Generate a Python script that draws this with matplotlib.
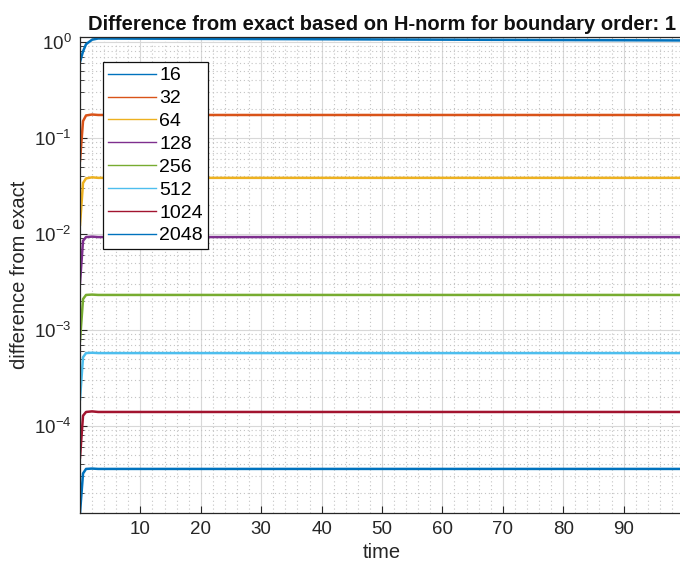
import matplotlib
matplotlib.use("Agg")
import matplotlib.pyplot as plt
from matplotlib.ticker import LogLocator, MultipleLocator, NullFormatter

plt.rcParams["font.family"] = ["Liberation Sans", "DejaVu Sans"]
plt.rcParams["mathtext.fontset"] = "custom"
plt.rcParams["mathtext.rm"] = "Liberation Sans"
plt.rcParams["mathtext.it"] = "Liberation Sans:italic"
plt.rcParams["axes.unicode_minus"] = False

# Sample times and error levels for each grid resolution
time = [0.0, 0.5, 1.0, 2.0, 3.0, 100.0]
err_16 = [0.62, 0.80, 0.95, 1.06, 1.09, 1.04]
err_32 = [0.058, 0.150, 0.172, 0.176, 0.174, 0.174]
err_64 = [0.0125, 0.034, 0.038, 0.039, 0.0385, 0.0385]
err_128 = [0.0031, 0.0085, 0.0093, 0.0094, 0.0093, 0.0093]
err_256 = [0.00077, 0.0021, 0.00232, 0.00234, 0.00232, 0.00232]
err_512 = [0.00019, 0.00052, 0.000575, 0.00058, 0.000575, 0.000575]
err_1024 = [4.7e-5, 0.000128, 0.00014, 0.000142, 0.00014, 0.00014]
err_2048 = [1.24e-5, 3.2e-5, 3.57e-5, 3.6e-5, 3.57e-5, 3.57e-5]

labels = ["16", "32", "64", "128", "256", "512", "1024", "2048"]
series = [err_16, err_32, err_64, err_128, err_256, err_512, err_1024, err_2048]
colors = ["#0072BD", "#D95319", "#EDB120", "#7E2F8E",
          "#77AC30", "#4DBEEE", "#A2142F", "#0072BD"]

xticks = [10, 20, 30, 40, 50, 60, 70, 80, 90]

W, H = 680, 572
fig = plt.figure(figsize=(W / 100, H / 100), dpi=100)
ax = fig.add_axes([80 / W, 1 - 513 / H, (684 - 80) / W, (513 - 37) / H])

for vals, lab, c in zip(series, labels, colors):
    ax.plot(time, vals, color=c, lw=1.8, label=lab)

ax.set_yscale("log")
ax.set_xlim(0, 100)
ax.set_ylim(1.24e-5, 1.13)

ax.set_xticks(xticks)
ax.xaxis.set_minor_locator(MultipleLocator(2))
ax.yaxis.set_major_locator(LogLocator(base=10, numticks=10))
ax.yaxis.set_minor_locator(LogLocator(base=10, subs=range(2, 10), numticks=20))
ax.yaxis.set_minor_formatter(NullFormatter())

txt = "#262626"
ax.tick_params(which="both", direction="in", colors=txt, labelsize=13.5,
               top=False, right=False)
ax.tick_params(which="major", length=5, pad=6)
ax.tick_params(axis="y", which="minor", length=3)
ax.tick_params(axis="x", which="minor", length=0)

ax.grid(True, which="major", color="#d8d8d8", lw=0.8, ls="-")
ax.grid(True, which="minor", color="#c4c4c4", lw=0.8, ls=(0, (1, 2.5)))
ax.set_axisbelow(True)

for s in ax.spines.values():
    s.set_color(txt)
    s.set_linewidth(0.9)

ax.set_xlabel("time", fontsize=14.5, color=txt, labelpad=3)
ax.set_ylabel("difference from exact", fontsize=14.5, color=txt, labelpad=4)
ax.set_title("Difference from exact based on H-norm for boundary order: 1",
             fontsize=14.5, fontweight="bold", color="#111111", pad=5)

leg = ax.legend(loc="upper left", bbox_to_anchor=(103 / W, 1 - 62 / H),
                bbox_transform=fig.transFigure, borderaxespad=0,
                fontsize=14, frameon=True, fancybox=False, shadow=False,
                edgecolor="#111111", framealpha=1, handlelength=2.5,
                handletextpad=0.15, labelspacing=0.27, borderpad=0.25)
leg.get_frame().set_linewidth(0.9)
for ln in leg.get_lines():
    ln.set_linewidth(1.0)

fig.savefig("out.png", dpi=100)
